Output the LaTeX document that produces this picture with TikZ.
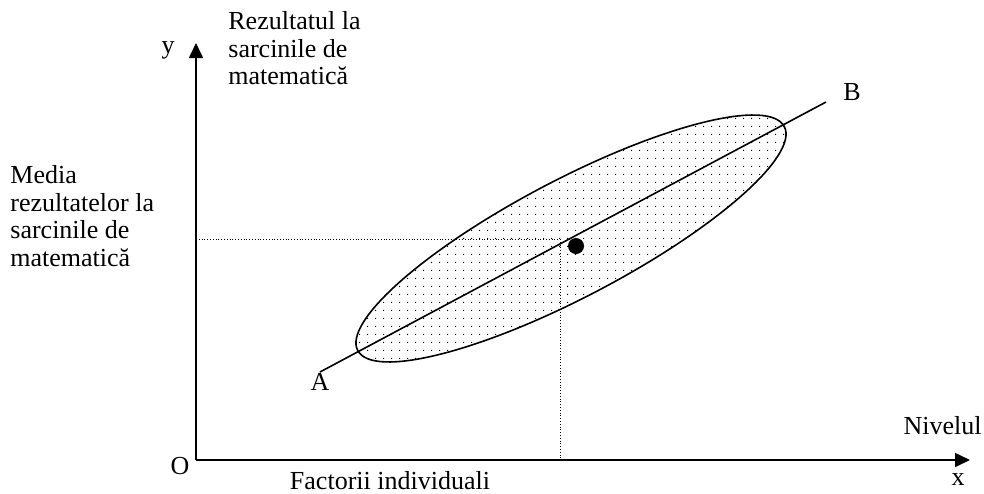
\documentclass[tikz,border=0pt]{standalone}
\usepackage{fontspec}
\setmainfont{Liberation Serif}
\usepackage{tikz}
\usetikzlibrary{arrows.meta, positioning, calc, patterns.meta}

\begin{document}
\begin{tikzpicture}[
      x=0.5pt, y=-0.5pt,
      lbl/.style   ={inner sep=0pt, font=\fontsize{13}{13.8}\selectfont},
      txt/.style   ={lbl, align=left, anchor=north west},
      axis/.style  ={thick, -{Triangle[length=7.5pt, width=7pt]}},
      guide/.style ={densely dotted, thin},
      cloud/.style ={thick, pattern={Dots[distance=4pt, radius=0.4pt]}}
    ]
    \useasboundingbox (0,0) rectangle (984,493);

    % Axe
    \coordinate (O)    at (196,460);
    \coordinate (ytip) at (196,43);
    \coordinate (xtip) at (970,460);
    \draw[axis] (O) -- (ytip);
    \draw[axis] (O) -- (xtip);

    \node[lbl] (yl) at (168,50)  {y};
    \node[lbl] (xl) at (958,480) {x};
    \node[lbl] (ol) at (180,466) {O};

    % Elipsa
    \coordinate (E) at (571,238.5);
    \draw[cloud, rotate around={27.7:(E)}] (E) ellipse [x radius=120.45pt, y radius=29.35pt];

    % Dreapta AB
    \coordinate (Aend) at (320,372);
    \coordinate (Bend) at (826,102);
    \draw[thick] (Aend) -- (Bend);
    \node[lbl] (A) at (320,382) {A};
    \node[lbl] (B) at (852,92)  {B};

    % Media
    \node[circle, fill, inner sep=0pt, minimum size=8pt] (M) at (576,246) {};
    \coordinate (My) at (196,239);
    \coordinate (Mx) at (560,460);
    \coordinate (Mc) at (560,239);
    \draw[guide] (My) -- (Mc) -- (Mx);

    % Etichete
    \node[txt] (rez) at (228,11)
      {Rezultatul la\\sarcinile de\\matematică};
    \node[txt] (med) at (10,165)
      {Media\\rezultatelor la\\sarcinile de\\matematică};
    \node[lbl, anchor=east] (niv) at (982,426) {Nivelul};
    \node[lbl] (fac) at (390,481) {Factorii individuali};

  \end{tikzpicture}
\end{document}
